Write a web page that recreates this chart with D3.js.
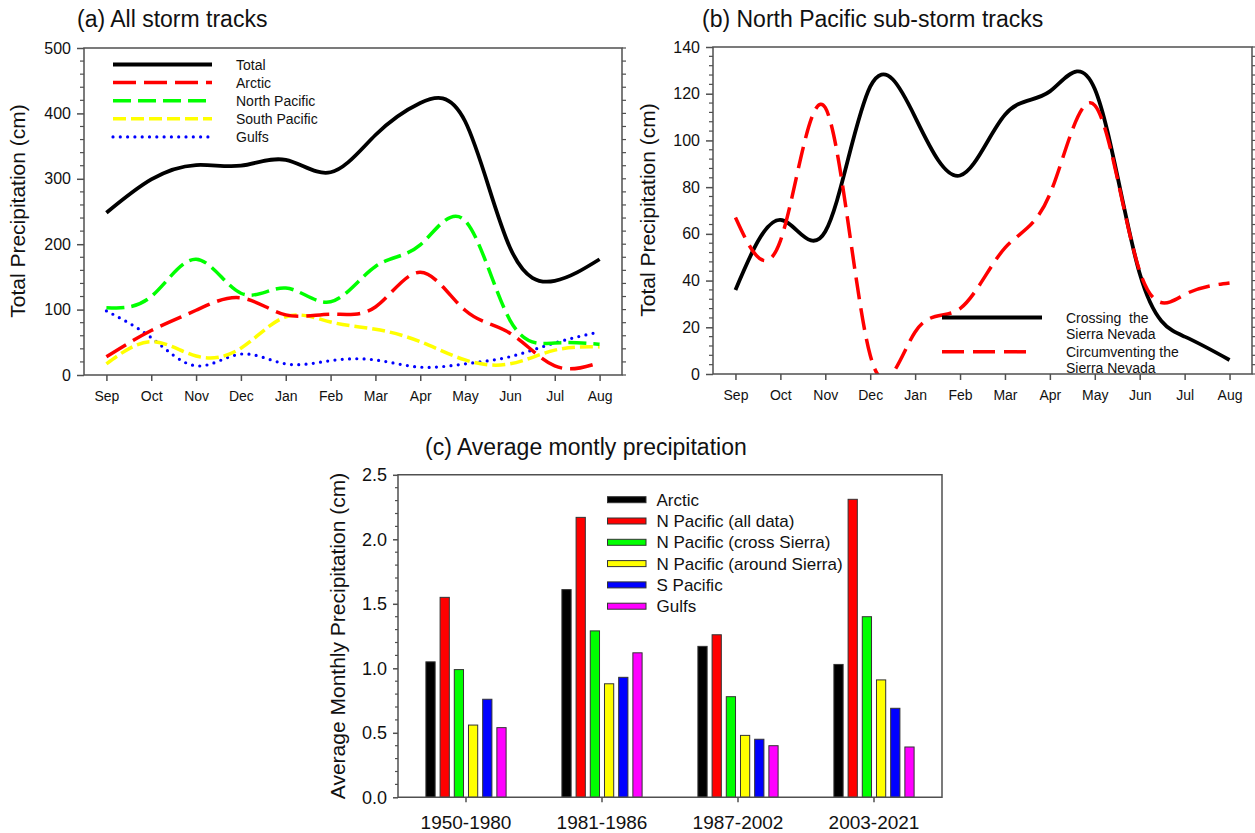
<!DOCTYPE html>
<html lang="en">
<head>
<meta charset="UTF-8" />
<title>Storm track precipitation</title>
<script src="https://d3js.org/d3.v7.min.js"></script>
<style>
  body { margin: 0; background: #fff; }
  svg { display: block; font-family: Arial, "Liberation Sans", sans-serif; }
  .frame { stroke: #505050; stroke-width: 1.5; fill: none; }
  .title { font-size: 23px; fill: #111; }
  .ylabel { font-size: 21px; fill: #111; }
  .legend-text { fill: #111; white-space: pre; }
</style>
</head>
<body>
<svg id="chart" width="1255" height="833"></svg>
<script>
// ---- data ----
const months = ["Sep", "Oct", "Nov", "Dec", "Jan", "Feb", "Mar", "Apr", "May", "Jun", "Jul", "Aug"];

// (a) all storm tracks, total precipitation (cm)
const total        = [248, 299, 321, 320, 329, 310, 367, 416, 388, 195, 144, 177];
const arctic       = [28, 68, 99, 118, 92, 93, 104, 157, 99, 64, 14, 19];
const northPacific = [103, 120, 177, 125, 133, 112, 166, 199, 236, 84, 49, 47];
const southPacific = [17, 51, 29, 41, 89, 81, 70, 51, 23, 17, 38, 43];
const gulfs        = [98, 57, 14, 32, 17, 22, 23, 12, 17, 28, 49, 66];
const seriesA = ["Total", "Arctic", "North Pacific", "South Pacific", "Gulfs"];

// (b) north pacific sub-storm tracks
const crossing      = [36, 66, 61, 123, 110, 85, 111, 121, 122, 43, 16, 6];
const circumventing = [67, 57, 114, 8, 18, 28, 54, 77, 115, 44, 34, 39];
const seriesB = [["Crossing  the", "Sierra Nevada"], ["Circumventing the", "Sierra Nevada"]];

// (c) average monthly precipitation (cm)
const periods    = ["1950-1980", "1981-1986", "1987-2002", "2003-2021"];
const seriesC    = ["Arctic", "N Pacific (all data)", "N Pacific (cross Sierra)", "N Pacific (around Sierra)", "S Pacific", "Gulfs"];
const arcticAvg  = [1.05, 1.61, 1.17, 1.03];
const nPacAll    = [1.55, 2.17, 1.26, 2.31];
const nPacCross  = [0.99, 1.29, 0.78, 1.40];
const nPacAround = [0.56, 0.88, 0.48, 0.91];
const sPacAvg    = [0.76, 0.93, 0.45, 0.69];
const gulfsAvg   = [0.54, 1.12, 0.40, 0.39];

const svg = d3.select("#chart");
const axisColor = "#505050";

function styleAxis(g, size) {
  g.attr("font-family", null).attr("font-size", size);
  g.select(".domain").remove();
  g.selectAll(".tick line").attr("stroke", axisColor).attr("stroke-width", 1.5);
  g.selectAll(".tick text").attr("fill", "#111");
}

function frame(x0, x1, y0, y1) {
  svg.append("path").attr("class", "frame")
    .attr("d", `M${x0},${y1}V${y0}H${x1}V${y1}Z`);
}

function minorTicks(values, scale, x, len) {
  svg.append("g").selectAll("line")
    .data(values)
    .join("line")
    .attr("x1", x).attr("x2", x + len)
    .attr("y1", d => scale(d)).attr("y2", d => scale(d))
    .attr("stroke", axisColor).attr("stroke-width", 1.2);
}

// ---- (a) All storm tracks ----
const xA = d3.scalePoint().domain(months).range([84, 622]).padding(0.5);
const yA = d3.scaleLinear().domain([0, 500]).range([375, 48]);

svg.append("text").attr("class", "title").attr("x", 77).attr("y", 27).text("(a) All storm tracks");
svg.append("text").attr("class", "ylabel")
  .attr("transform", "translate(25,211) rotate(-90)")
  .attr("text-anchor", "middle").text("Total Precipitation (cm)");

svg.append("g").attr("transform", "translate(84,0)")
  .call(d3.axisLeft(yA).tickValues(d3.range(0, 501, 100)).tickSize(7).tickPadding(6))
  .call(styleAxis, 16);
minorTicks(d3.range(0, 501, 20).filter(d => d % 100), yA, 84, -4);
minorTicks(d3.range(0, 501, 20), yA, 622, 4);
svg.append("g").attr("transform", "translate(0,375)")
  .call(d3.axisBottom(xA).tickSize(6).tickPadding(10))
  .call(styleAxis, 14);
frame(84, 622, 48, 375);

const styleA = [
  { values: total,        color: "#000000", dash: null,    cap: "butt",  width: 3.8 },
  { values: arctic,       color: "#ff0000", dash: "23,8",  cap: "butt",  width: 3.5 },
  { values: northPacific, color: "#00ff00", dash: "18,7",  cap: "butt",  width: 3.5 },
  { values: southPacific, color: "#ffff00", dash: "13,5",  cap: "butt",  width: 3.5 },
  { values: gulfs,        color: "#0000ff", dash: "0,7.3", cap: "round", width: 3.2 }
];

const lineA = d3.line()
  .x((d, i) => xA(months[i]))
  .y(d => yA(d))
  .curve(d3.curveNatural);

svg.append("g").selectAll("path")
  .data(styleA.slice().reverse())
  .join("path")
  .attr("d", d => lineA(d.values))
  .attr("fill", "none")
  .attr("stroke", d => d.color)
  .attr("stroke-width", d => d.width)
  .attr("stroke-dasharray", d => d.dash)
  .attr("stroke-linecap", d => d.cap);

const legA = svg.append("g").selectAll("g")
  .data(styleA)
  .join("g")
  .attr("transform", (d, i) => `translate(113,${64.5 + i * 18.1})`);
legA.append("line")
  .attr("x1", 0).attr("x2", 99)
  .attr("stroke", d => d.color)
  .attr("stroke-width", d => d.width)
  .attr("stroke-dasharray", d => d.dash)
  .attr("stroke-linecap", d => d.cap);
legA.append("text").attr("class", "legend-text")
  .attr("x", 123).attr("dy", "0.36em").attr("font-size", 14)
  .text((d, i) => seriesA[i]);

// ---- (b) North Pacific sub-storm tracks ----
const xB = d3.scalePoint().domain(months).range([713, 1252]).padding(0.5);
const yB = d3.scaleLinear().domain([0, 140]).range([374, 47]);

svg.append("text").attr("class", "title").attr("x", 702).attr("y", 27).text("(b) North Pacific sub-storm tracks");
svg.append("text").attr("class", "ylabel")
  .attr("transform", "translate(655,210) rotate(-90)")
  .attr("text-anchor", "middle").text("Total Precipitation (cm)");

svg.append("g").attr("transform", "translate(713,0)")
  .call(d3.axisLeft(yB).tickValues(d3.range(0, 141, 20)).tickSize(7).tickPadding(6))
  .call(styleAxis, 16);
minorTicks(d3.range(0, 141, 4).filter(d => d % 20), yB, 713, -4);
minorTicks(d3.range(0, 141, 4), yB, 1252, 4);
svg.append("g").attr("transform", "translate(0,374)")
  .call(d3.axisBottom(xB).tickSize(6).tickPadding(10))
  .call(styleAxis, 14);

svg.append("clipPath").attr("id", "clipB")
  .append("rect").attr("x", 713).attr("y", 47).attr("width", 539).attr("height", 327);

const styleB = [
  { values: crossing,      color: "#000000", dash: null,   width: 3.8 },
  { values: circumventing, color: "#ff0000", dash: "22,9", width: 3.5 }
];

const lineB = d3.line()
  .x((d, i) => xB(months[i]))
  .y(d => yB(d))
  .curve(d3.curveNatural);

svg.append("g").attr("clip-path", "url(#clipB)")
  .selectAll("path")
  .data(styleB)
  .join("path")
  .attr("d", d => lineB(d.values))
  .attr("fill", "none")
  .attr("stroke", d => d.color)
  .attr("stroke-width", d => d.width)
  .attr("stroke-dasharray", d => d.dash);
frame(713, 1252, 47, 374);

const legB = svg.append("g").selectAll("g")
  .data(styleB)
  .join("g")
  .attr("transform", (d, i) => `translate(942,${317.5 + i * 34.3})`);
legB.append("line")
  .attr("x1", 0).attr("x2", (d, i) => i ? 90 : 100)
  .attr("stroke", d => d.color)
  .attr("stroke-width", d => d.width)
  .attr("stroke-dasharray", d => d.dash);
legB.append("text").attr("class", "legend-text")
  .attr("x", 124).attr("font-size", 14)
  .selectAll("tspan")
  .data((d, i) => seriesB[i])
  .join("tspan")
  .attr("x", 124)
  .attr("y", (t, j) => j * 16.5)
  .attr("dy", "0.36em")
  .text(t => t);

// ---- (c) Average montly precipitation ----
const valuesC = [arcticAvg, nPacAll, nPacCross, nPacAround, sPacAvg, gulfsAvg];
const colorsC = ["#000000", "#ff0000", "#00ff00", "#ffff00", "#0000ff", "#ff00ff"];

const xC = d3.scaleBand().domain(periods).range([398, 942]);
const xInner = d3.scaleBand().domain(seriesC).range([-40.1, 40.1]).paddingInner(0.35);
const yC = d3.scaleLinear().domain([0, 2.5]).range([797.3, 474.8]);

svg.append("text").attr("class", "title").attr("x", 425).attr("y", 455).text("(c) Average montly precipitation");
svg.append("text").attr("class", "ylabel")
  .attr("transform", "translate(345,636) rotate(-90)")
  .attr("text-anchor", "middle").text("Average Monthly Precipitation (cm)");

svg.append("g").attr("transform", "translate(398,0)")
  .call(d3.axisLeft(yC).tickValues(d3.range(0, 2.51, 0.5)).tickFormat(d3.format(".1f")).tickSize(5).tickPadding(6))
  .call(styleAxis, 18);
minorTicks(d3.range(0, 26).filter(d => d % 5).map(d => d / 10), yC, 398, -3);
svg.append("g").attr("transform", "translate(0,797.3)")
  .call(d3.axisBottom(xC).tickSize(5).tickPadding(13))
  .call(styleAxis, 19);

const groups = svg.append("g").selectAll("g")
  .data(periods)
  .join("g")
  .attr("transform", p => `translate(${xC(p) + xC.bandwidth() / 2},0)`);
groups.selectAll("rect")
  .data((p, pi) => seriesC.map((s, si) => ({ s, si, v: valuesC[si][pi] })))
  .join("rect")
  .attr("x", d => xInner(d.s))
  .attr("width", xInner.bandwidth())
  .attr("y", d => yC(d.v))
  .attr("height", d => yC(0) - yC(d.v))
  .attr("fill", d => colorsC[d.si])
  .attr("stroke", "#333")
  .attr("stroke-width", 1);
frame(398, 942, 474.8, 797.3);

const legC = svg.append("g").selectAll("g")
  .data(seriesC)
  .join("g")
  .attr("transform", (d, i) => `translate(607.5,${499.7 + i * 21.3})`);
legC.append("rect")
  .attr("x", 0).attr("y", -3).attr("width", 38.5).attr("height", 6)
  .attr("fill", (d, i) => colorsC[i])
  .attr("stroke", "#333").attr("stroke-width", 1);
legC.append("text").attr("class", "legend-text")
  .attr("x", 49).attr("dy", "0.36em").attr("font-size", 17)
  .text(d => d);
</script>
</body>
</html>
